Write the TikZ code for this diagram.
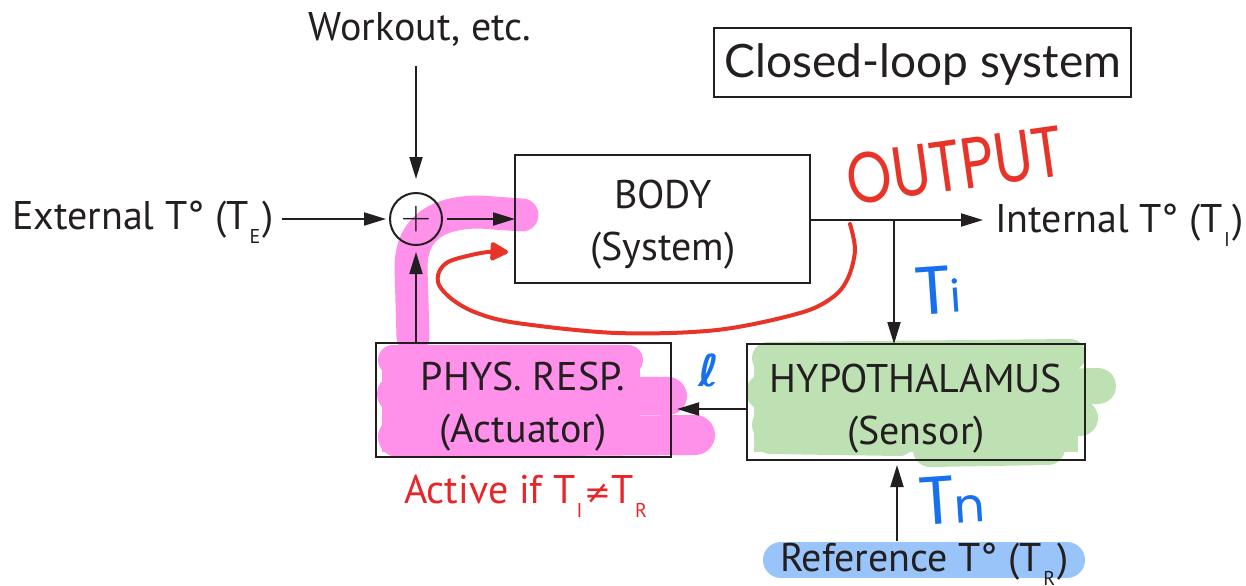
\documentclass[tikz,border=0pt]{standalone}
\usepackage{fontspec}
\setmainfont{PT Sans}
\newfontfamily\titlefont{Lato}
\newfontfamily\handfont{Poppins}
\newfontfamily\symfont{DejaVu Sans}
\usetikzlibrary{arrows.meta}

\definecolor{ink}{RGB}{35,31,32}
\definecolor{redink}{RGB}{232,52,40}
\definecolor{activered}{RGB}{232,38,42}
\definecolor{blueink}{RGB}{22,112,240}
\definecolor{pinkhl}{RGB}{255,145,235}
\definecolor{greenhl}{RGB}{190,225,180}
\definecolor{bluehl}{RGB}{152,196,250}

% lowered subscript letter as in T_E
\newcommand{\lowsub}[1]{\kern0.03em\raisebox{-0.36em}{\fontsize{10}{10}\selectfont #1}\kern0.06em}

\tikzset{
  x=0.5pt, y=-0.5pt,
  lbl/.style={inner sep=0pt, outer sep=0pt, text=ink, font=\fontsize{20}{24}\selectfont},
  blk/.style={draw=ink, line width=1pt, rectangle, inner sep=0pt, outer sep=0pt},
  arr/.style={draw=ink, line width=1pt, -{Triangle[length=11pt,width=6.5pt]}},
  hl/.style={line cap=round, line join=round},
  handred/.style={inner sep=0pt, text=redink, font=\handfont\fontsize{36}{36}\selectfont},
  handblue/.style={inner sep=0pt, text=blueink, font=\handfont\fontsize{34}{34}\selectfont},
}

\begin{document}
\begin{tikzpicture}
\useasboundingbox (0,0) rectangle (1246,585);

% ---------- marker highlights ----------
% pink band along the feedback path into the body
\draw[hl, pinkhl, line width=16.5pt] (413,337) -- (411,268)
  .. controls (411,226) and (440,212) .. (480,212) -- (522,215);
% pink scribble over the actuator
\fill[pinkhl] (382,352) rectangle (640,452);
\draw[hl, pinkhl, line width=15pt] (393,360) -- (628,360);
\draw[hl, pinkhl, line width=19pt] (396,394) -- (668,396);
\draw[hl, pinkhl, line width=20pt] (398,437) -- (695,435);
% green scribble over the sensor
\fill[greenhl] (754,352) rectangle (1078,452);
\draw[hl, greenhl, line width=16pt] (768,358) -- (1070,355);
\draw[hl, greenhl, line width=18pt] (764,392) -- (1098,386);
\draw[hl, greenhl, line width=18pt] (770,425) -- (1080,418);
\draw[hl, greenhl, line width=17pt] (930,450) -- (1048,448);
\draw[hl, greenhl, line width=14pt] (770,440) -- (900,442);
% blue band under the reference label
\draw[hl, bluehl, line width=18pt] (781,560) -- (1067,560);

% ---------- blocks ----------
\node[blk, minimum width=147.5pt, minimum height=64pt] (body) at (662.5,219) {};
\node[blk, minimum width=147.5pt, minimum height=57pt] (phys) at (523.5,400) {};
\node[blk, minimum width=169pt, minimum height=58pt] (hypo) at (916,402) {};
\node[draw=ink, line width=0.8pt, inner sep=0pt, minimum width=208.5pt, minimum height=34.5pt] (titlebox) at (922.5,62.5) {};
\node[circle, draw=ink, line width=1pt, minimum size=26pt, inner sep=0pt] (sum) at (416,219) {};

% ---------- labels ----------
\node[inner sep=0pt, text=ink, font=\fontsize{20}{20}\selectfont] (plus) at (sum.center) {$+$};
\node[lbl, anchor=base] (workout) at (420,40) {Workout, etc.};
\node[lbl, anchor=base west] (extl) at (12,229) {External T° (T\lowsub{E})};
\node[lbl, anchor=base west] (intl) at (995,232) {Internal T° (T\lowsub{I})};
\node[lbl, anchor=base] (bodyA) at (663,208) {BODY};
\node[lbl, anchor=base] (bodyB) at (663,260) {(System)};
\node[lbl, anchor=base] (physA) at (523,390) {PHYS. RESP.};
\node[lbl, anchor=base] (physB) at (523,442) {(Actuator)};
\node[lbl, anchor=base] (hypoA) at (916,392) {HYPOTHALAMUS};
\node[lbl, anchor=base] (hypoB) at (916,444) {(Sensor)};
\node[lbl, anchor=base west, text=activered] (active) at (404,503) {Active if T\lowsub{I}{\symfont\fontsize{16}{16}\selectfont ≠}T\lowsub{R}};
\node[lbl, anchor=base west] (refl) at (780,571) {Reference T° (T\lowsub{R})};
\node[inner sep=0pt, text=ink, anchor=base, font=\titlefont\fontsize{23}{24}\selectfont] (title) at (923,77) {Closed-loop system};

% ---------- signal connectors ----------
\coordinate (wkTail) at (416,66);
\coordinate (tap) at (894,220);
\coordinate (refTail) at (897,541);
\draw[arr] (wkTail) -- ([yshift=6.5pt]sum.north);
\draw[arr] ([xshift=4pt]extl.east |- sum) -- ([xshift=-1.5pt]sum.west);
\draw[arr] ([xshift=2pt]sum.east) -- (body.west);
\draw[arr] (body.east |- tap) -- ([xshift=-6pt]intl.west |- tap);
\draw[arr] (tap) -- (tap |- hypo.north);
\draw[arr] ([yshift=-3.5pt]hypo.west) -- ([yshift=-3.5pt,xshift=3pt]phys.east |- hypo.west);
\draw[arr] (phys.north -| sum) -- ([yshift=-3pt]sum.south);
\draw[arr] (refTail) -- ([yshift=-2.5pt]hypo.south -| refTail);

% ---------- hand-drawn annotations ----------
\coordinate (outTap) at (850,224);
\coordinate (redTip) at (508,252);
\draw[redink, line width=2pt, line cap=round, -{Triangle[length=10pt,width=10pt,round]}]
  plot[smooth, tension=0.55] coordinates {(outTap) (855,250) (848,278) (833,297) (800,313)
    (717,330) (617,333) (517,323) (477,313) (453,300) (439,285) (439,272) (448,262)
    (467,256) (488,252) (redTip)};
\node[handred, rotate=8, xscale=0.8] (outputnote) at (955,165) {OUTPUT};
\node[handblue, rotate=4] (tinote) at (938,290) {T\kern-1pt{\fontsize{22}{22}\selectfont i}};
\node[inner sep=0pt, text=blueink, font=\symfont\bfseries\fontsize{22}{22}\selectfont] (ellnote) at (709,370) {ℓ};
\node[handblue, rotate=4] (tnnote) at (952,500) {T\kern-1pt{\fontsize{24}{24}\selectfont n}};
\end{tikzpicture}
\end{document}
